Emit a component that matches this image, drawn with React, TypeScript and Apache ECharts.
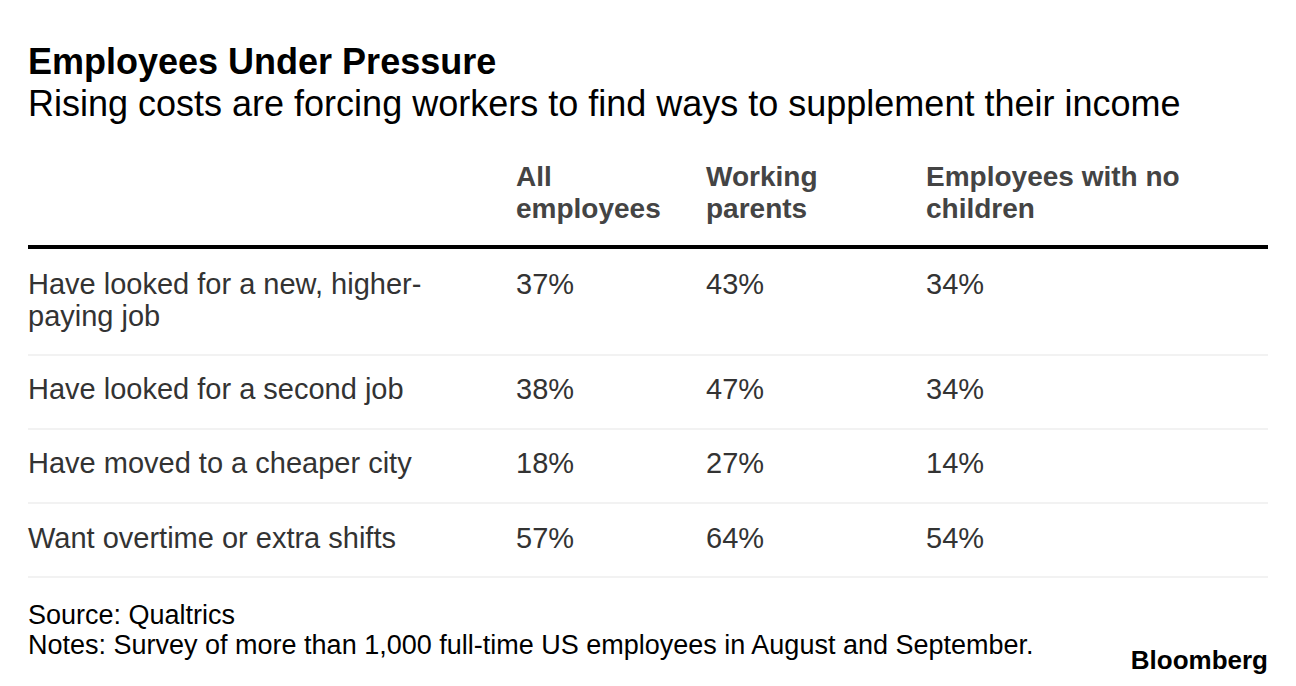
import React, { useEffect, useRef } from "react";
import * as echarts from "echarts";

const title = "Employees Under Pressure";
const subtitle = "Rising costs are forcing workers to find ways to supplement their income";
const columnHeaders = ["All\nemployees", "Working\nparents", "Employees with no\nchildren"];
const rowLabels = [
  "Have looked for a new, higher-\npaying job",
  "Have looked for a second job",
  "Have moved to a cheaper city",
  "Want overtime or extra shifts",
];
const allEmployees = [37, 38, 18, 57];
const workingParents = [43, 47, 27, 64];
const noChildren = [34, 34, 14, 54];
const sourceText = "Source: Qualtrics";
const notesText = "Notes: Survey of more than 1,000 full-time US employees in August and September.";
const brand = "Bloomberg";

const FONT = "'Liberation Sans', Arial, Helvetica, sans-serif";

export default function App() {
  const ref = useRef<HTMLDivElement>(null);
  useEffect(() => {
    if (!ref.current) return;
    const chart = echarts.init(ref.current, null, { renderer: "svg" });
    const els: any[] = [];
    const txt = (text: string, x: number, y: number, size: number, weight: string, fill: string, align = "left") => {
      els.push({
        type: "text",
        x,
        y,
        silent: true,
        style: {
          text,
          fill,
          font: `${weight} ${size}px ${FONT}`,
          align,
          verticalAlign: "middle",
        },
      });
    };
    txt(title, 28, 61, 36, "bold", "#000");
    txt(subtitle, 28, 103, 36, "normal", "#000");

    const colX = [516, 706, 926];
    const lineH = 32;
    columnHeaders.forEach((h, i) => {
      h.split("\n").forEach((ln, j) => txt(ln, colX[i], 176 + j * lineH, 28, "bold", "#444"));
    });
    els.push({ type: "rect", shape: { x: 28, y: 245, width: 1240, height: 4 }, style: { fill: "#000" }, silent: true });

    const rowY = [284, 389, 463, 538];
    const sepY = [354, 428, 502, 576];
    const cols = [allEmployees, workingParents, noChildren];
    rowLabels.forEach((lab, r) => {
      lab.split("\n").forEach((ln, j) => txt(ln, 28, rowY[r] + j * lineH, 29, "normal", "#333"));
      cols.forEach((c, ci) => txt(`${c[r]}%`, colX[ci], rowY[r], 29, "normal", "#333"));
      els.push({ type: "rect", shape: { x: 28, y: sepY[r], width: 1240, height: 2 }, style: { fill: "#f2f2f2" }, silent: true });
    });

    txt(sourceText, 28, 615, 27, "normal", "#000");
    txt(notesText, 28, 645, 27, "normal", "#000");
    txt(brand, 1268, 660, 26, "bold", "#000", "right");

    chart.setOption({ animation: false, graphic: { elements: els } });
    return () => chart.dispose();
  }, []);
  return <div ref={ref} style={{ position: "absolute", left: 0, top: 0, width: 1296, height: 686, background: "#fff" }} />;
}
